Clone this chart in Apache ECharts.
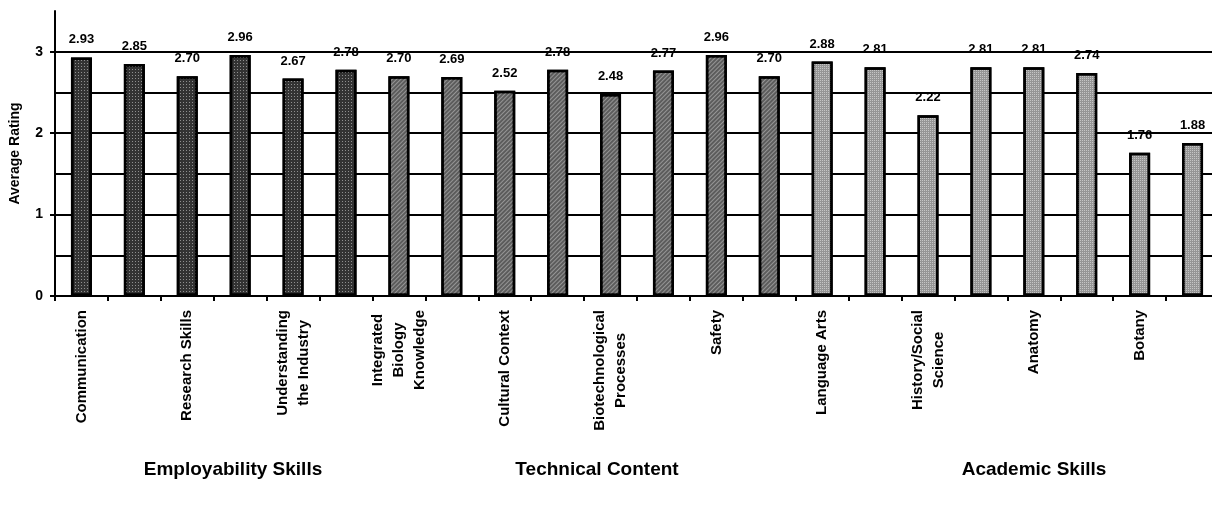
<!DOCTYPE html>
<html>
<head>
<meta charset="utf-8">
<script src="https://cdn.jsdelivr.net/npm/echarts@6/dist/echarts.min.js"></script>
<style>
  html, body { margin: 0; padding: 0; background: #fff; }
  #chart { width: 1212px; height: 514px; }
</style>
</head>
<body>
<div id="chart"></div>
<script>
// Skill areas, one bar each; only every other name is printed under the axis
const categories = [
  'Communication', '', 'Research Skills', '', 'Understanding\nthe Industry', '',
  'Integrated\nBiology\nKnowledge', '', 'Cultural Context', '', 'Biotechnological\nProcesses', '',
  'Safety', '', 'Language Arts', '', 'History/Social\nScience', '',
  'Anatomy', '', 'Botany', ''
];
// Average rating per skill area
const ratings = [
  2.93, 2.85, 2.70, 2.96, 2.67, 2.78,
  2.70, 2.69, 2.52, 2.78, 2.48, 2.77, 2.96, 2.70,
  2.88, 2.81, 2.22, 2.81, 2.81, 2.74, 1.76, 1.88
];
// Group each bar belongs to (index into groupNames)
const groupOf = [
  0, 0, 0, 0, 0, 0,
  1, 1, 1, 1, 1, 1, 1, 1,
  2, 2, 2, 2, 2, 2, 2, 2
];
const groupNames = ['Employability Skills', 'Technical Content', 'Academic Skills'];
const yTickLabels = [0, 1, 2, 3];

// Fill and texture per group: dark stipple, hatching, light stipple
const groupFill = ['#333333', '#5c5c5c', '#959595'];
const groupDecal = [
  { symbol: 'rect', symbolSize: 1, color: 'rgba(255,255,255,0.45)', dashArrayX: [1, 2], dashArrayY: [1, 2], rotation: 0 },
  { symbol: 'rect', symbolSize: 1, color: 'rgba(255,255,255,0.35)', dashArrayX: [1, 0], dashArrayY: [1, 2], rotation: -Math.PI / 4 },
  { symbol: 'rect', symbolSize: 1, color: 'rgba(255,255,255,0.45)', dashArrayX: [1, 1], dashArrayY: [1, 1], rotation: 0 }
];
const groupLabelX = [233, 597, 1034];
const FONT = '"Liberation Sans", Arial, Helvetica, sans-serif';

const chart = echarts.init(document.getElementById('chart'), null, { renderer: 'canvas' });

const barData = ratings.map((v, i) => ({
  value: v,
  itemStyle: { color: groupFill[groupOf[i]], decal: groupDecal[groupOf[i]] }
}));

chart.setOption({
  backgroundColor: '#fff',
  animation: false,
  grid: { left: 55, right: -7, top: 11, bottom: 218, containLabel: false, outerBoundsMode: 'none' },
  xAxis: {
    type: 'category',
    data: categories,
    boundaryGap: true,
    axisLine: { show: true, lineStyle: { color: '#000', width: 2 } },
    axisTick: { show: true, interval: 0, alignWithLabel: false, length: 5, lineStyle: { color: '#000', width: 2 } },
    axisLabel: {
      interval: 0,
      rotate: 90,
      margin: 14,
      color: '#000',
      fontFamily: FONT,
      fontWeight: 'bold',
      fontSize: 15,
      lineHeight: 21,
      formatter: function (v) {
        if (!v) return '';
        return v.split('\n').map(s => '{c|' + s + '}').join('\n');
      },
      rich: {
        c: { align: 'center', fontFamily: FONT, fontWeight: 'bold', fontSize: 15, lineHeight: 21, color: '#000' }
      }
    },
    splitLine: { show: false }
  },
  yAxis: [{
    // gridlines every half point, labels on whole points
    type: 'value',
    min: 0,
    max: 3.5,
    interval: 0.5,
    name: 'Average Rating',
    nameLocation: 'middle',
    nameGap: 33,
    nameTextStyle: { color: '#000', fontFamily: FONT, fontWeight: 'bold', fontSize: 14 },
    axisLine: { show: true, lineStyle: { color: '#000', width: 2 } },
    axisTick: { show: false },
    axisLabel: {
      margin: 12,
      color: '#000',
      fontFamily: FONT,
      fontWeight: 'bold',
      fontSize: 14,
      formatter: v => (yTickLabels.indexOf(v) >= 0 ? String(v) : '')
    },
    splitLine: { show: true, showMaxLine: false, lineStyle: { color: '#000', width: 2 } }
  }, {
    // outward tick marks on whole points only
    type: 'value',
    position: 'left',
    min: 0,
    max: 3.5,
    axisLine: { show: false },
    axisTick: { show: true, length: 5, customValues: yTickLabels, lineStyle: { color: '#000', width: 2 } },
    axisLabel: { show: false },
    splitLine: { show: false }
  }],
  series: [{
    type: 'bar',
    data: barData,
    barWidth: 21,
    itemStyle: { borderColor: '#000', borderWidth: 2.5 },
    label: {
      show: true,
      position: 'top',
      distance: 11,
      color: '#000',
      fontFamily: FONT,
      fontWeight: 'bold',
      fontSize: 13,
      formatter: p => p.value.toFixed(2)
    }
  }],
  graphic: groupNames.map((name, i) => ({
    type: 'text',
    x: groupLabelX[i],
    y: 470,
    style: {
      text: name,
      fill: '#000',
      font: 'bold 19px ' + FONT,
      textAlign: 'center',
      textVerticalAlign: 'middle'
    }
  }))
});
</script>
</body>
</html>
